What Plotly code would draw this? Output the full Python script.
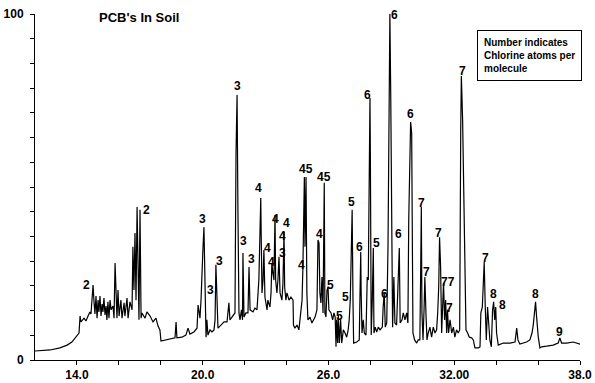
import plotly.graph_objects as go

# Retention time (min) and relative abundance (%)
rt = [12.00, 12.72, 13.19, 13.53, 13.76, 14.00, 14.10, 14.15, 14.19, 14.34, 14.43, 14.53, 14.62, 14.67,
      14.72, 14.77, 14.81, 14.86, 14.91, 14.96, 15.01, 15.05, 15.10, 15.15, 15.20, 15.24, 15.29, 15.34,
      15.39, 15.43, 15.48, 15.53, 15.58, 15.63, 15.72, 15.77, 15.82, 15.86, 15.91, 15.96, 16.01, 16.10,
      16.15, 16.25, 16.29, 16.39, 16.44, 16.53, 16.63, 16.67, 16.72, 16.77, 16.82, 16.87, 16.91, 16.96,
      17.01, 17.06, 17.10, 17.25, 17.34, 17.49, 17.63, 17.77, 17.87, 17.96, 18.01, 18.20, 18.44, 18.68,
      18.73, 18.77, 19.01, 19.20, 19.30, 19.39, 19.58, 19.73, 19.78, 19.87, 19.92, 19.97, 20.01, 20.06,
      20.11, 20.16, 20.20, 20.25, 20.35, 20.44, 20.54, 20.59, 20.63, 20.68, 20.73, 20.87, 21.02, 21.16,
      21.25, 21.30, 21.44, 21.54, 21.59, 21.64, 21.68, 21.73, 21.78, 21.85, 21.90, 21.92, 21.97, 22.06,
      22.16, 22.21, 22.26, 22.40, 22.49, 22.59, 22.68, 22.73, 22.77, 22.79, 22.83, 22.88, 22.92, 22.97,
      23.02, 23.07, 23.11, 23.21, 23.26, 23.30, 23.35, 23.40, 23.45, 23.48, 23.54, 23.59, 23.64, 23.69,
      23.78, 23.83, 23.88, 23.91, 23.97, 24.02, 24.12, 24.21, 24.31, 24.33, 24.40, 24.50, 24.59, 24.69,
      24.74, 24.78, 24.81, 24.85, 24.88, 24.93, 24.97, 25.02, 25.12, 25.21, 25.36, 25.45, 25.50, 25.55,
      25.59, 25.64, 25.69, 25.74, 25.80, 25.83, 25.88, 25.93, 25.98, 26.02, 26.12, 26.20, 26.26, 26.32,
      26.36, 26.39, 26.44, 26.47, 26.52, 26.58, 26.63, 26.71, 26.79, 26.87, 26.94, 26.99, 27.04, 27.09,
      27.13, 27.17, 27.20, 27.35, 27.47, 27.50, 27.54, 27.56, 27.60, 27.66, 27.71, 27.79, 27.85, 27.90,
      27.95, 27.98, 28.00, 28.01, 28.04, 28.09, 28.14, 28.17, 28.23, 28.30, 28.38, 28.46, 28.57, 28.61,
      28.66, 28.71, 28.78, 28.84, 28.89, 28.93, 28.97, 29.01, 29.06, 29.12, 29.17, 29.25, 29.33, 29.38,
      29.42, 29.51, 29.57, 29.65, 29.73, 29.79, 29.83, 29.87, 29.92, 29.97, 30.00, 30.03, 30.11, 30.21,
      30.28, 30.36, 30.40, 30.43, 30.46, 30.51, 30.56, 30.60, 30.65, 30.70, 30.76, 30.84, 30.92, 31.00,
      31.08, 31.16, 31.21, 31.26, 31.30, 31.35, 31.40, 31.45, 31.49, 31.54, 31.59, 31.64, 31.68, 31.73,
      31.80, 31.88, 31.96, 32.03, 32.11, 32.19, 32.26, 32.31, 32.34, 32.40, 32.45, 32.51, 32.56, 32.64,
      32.72, 32.83, 32.91, 32.99, 33.15, 33.23, 33.27, 33.34, 33.38, 33.43, 33.48, 33.53, 33.59, 33.64,
      33.70, 33.77, 33.83, 33.88, 33.93, 33.98, 34.02, 34.10, 34.34, 34.66, 34.90, 34.98, 35.04, 35.13,
      35.45, 35.61, 35.71, 35.77, 35.84, 35.88, 35.93, 36.01, 36.09, 36.17, 36.41, 36.72, 36.96, 37.04,
      37.12, 37.36, 37.68, 38.00]
abundance = [2.6, 2.9, 3.5, 4.3, 5.2, 6.9, 7.8, 12.7, 11.0, 12.1, 11.3, 12.7, 13.9, 13.3,
             19.7, 21.7, 17.3, 13.3, 18.5, 12.1, 17.3, 13.9, 18.5, 12.7, 16.2, 13.9, 17.9, 13.0,
             15.6, 11.6, 16.8, 12.1, 17.3, 14.5, 15.6, 12.1, 28.0, 17.3, 12.1, 20.2, 12.7, 17.3,
             12.1, 16.5, 12.7, 17.9, 12.1, 16.8, 14.5, 32.7, 20.2, 36.7, 17.3, 44.2, 20.2, 11.6,
             43.4, 12.1, 13.6, 12.1, 13.9, 12.7, 11.0, 12.1, 9.8, 8.7, 5.5, 5.8, 6.1, 6.4,
             11.0, 6.4, 6.6, 7.2, 9.2, 7.5, 8.1, 9.2, 15.9, 12.1, 17.3, 30.3, 31.8, 38.4,
             18.8, 6.6, 11.6, 7.2, 8.7, 8.1, 8.7, 11.6, 27.5, 14.5, 9.2, 10.1, 11.0, 11.0,
             16.5, 11.6, 12.7, 13.6, 59.8, 76.6, 44.2, 13.6, 11.6, 14.5, 11.6, 30.9, 12.4, 13.6,
             13.6, 26.9, 14.5, 13.9, 15.0, 14.5, 23.1, 36.7, 46.8, 36.7, 19.4, 23.1, 31.8, 18.2,
             15.3, 14.5, 17.3, 15.3, 19.4, 28.0, 25.1, 23.1, 41.9, 23.1, 19.4, 23.1, 29.8, 19.4,
             17.3, 22.3, 37.0, 21.1, 17.3, 19.4, 17.3, 18.2, 17.3, 10.1, 9.2, 10.1, 8.7, 13.6,
             17.3, 26.6, 40.5, 52.9, 32.7, 52.9, 19.4, 11.6, 12.4, 10.7, 12.4, 14.5, 34.7, 33.8,
             19.4, 16.5, 24.0, 13.6, 51.2, 13.6, 12.4, 20.2, 21.1, 14.5, 13.6, 11.6, 13.6, 12.4,
             3.8, 11.6, 4.9, 13.0, 4.9, 11.6, 4.9, 8.7, 7.8, 6.6, 8.7, 11.6, 17.3, 28.0,
             43.4, 17.3, 4.9, 5.2, 5.8, 17.3, 31.2, 19.4, 7.8, 11.6, 7.8, 7.2, 24.0, 23.1,
             58.7, 75.7, 58.7, 39.6, 7.2, 17.3, 32.4, 7.8, 9.5, 8.1, 9.5, 8.7, 9.5, 15.3,
             19.4, 9.5, 10.7, 32.4, 77.2, 100.0, 77.2, 34.7, 9.5, 24.0, 10.7, 10.1, 22.3, 32.4,
             10.7, 11.6, 13.6, 11.6, 13.6, 10.7, 40.5, 59.8, 68.8, 65.6, 44.2, 7.8, 5.8, 4.9,
             5.8, 5.8, 26.0, 44.2, 13.6, 5.8, 14.5, 24.0, 13.6, 5.8, 7.8, 9.5, 6.6, 9.5,
             7.8, 8.7, 13.6, 21.1, 35.5, 26.9, 7.8, 18.2, 22.3, 11.6, 17.3, 7.8, 14.5, 7.8,
             11.6, 7.8, 9.5, 6.6, 8.7, 7.8, 8.7, 66.5, 82.1, 69.4, 45.4, 20.2, 8.7, 7.8,
             6.6, 6.4, 5.8, 3.5, 3.5, 3.8, 13.6, 15.3, 24.0, 28.3, 15.3, 5.8, 15.3, 11.6,
             5.8, 3.8, 14.5, 16.8, 11.6, 15.3, 7.8, 4.3, 4.9, 4.9, 5.2, 9.2, 5.8, 4.6,
             5.2, 5.8, 7.8, 10.1, 13.9, 16.8, 12.4, 6.6, 3.5, 3.8, 4.0, 4.3, 4.9, 6.4,
             4.9, 4.9, 5.2, 4.6]

# Peak labels: number of chlorine atoms per molecule
label_text = ["2", "2", "3", "3", "3", "3", "3", "3", "4", "4", "4", "4", "4", "4", "3", "4",
              "45", "45", "4", "5", "5", "5", "5", "6", "6", "5", "6", "6", "6", "6",
              "7", "7", "7", "77", "7", "7", "7", "8", "8", "8", "9"]
label_rt = [14.48, 17.34, 20.01, 20.35, 20.82, 21.66, 21.95, 22.32, 22.64, 23.45, 24.02, 23.07, 23.26,
            23.83, 23.83, 24.69, 24.93, 25.78, 25.55, 26.12, 26.79, 26.55, 27.12, 27.50, 27.84, 28.28,
            28.69, 29.14, 29.36, 29.93, 30.44, 30.67, 31.24, 31.72, 31.77, 32.40, 33.51, 33.89, 34.31,
            35.90, 37.00]
label_ab = [21.7, 43.4, 40.8, 20.2, 28.6, 79.2, 34.4, 29.2, 49.7, 40.8, 39.6, 32.4, 28.3,
            35.8, 30.9, 27.5, 55.2, 52.9, 36.4, 21.7, 18.2, 12.7, 45.7, 32.7, 76.6, 33.8,
            19.1, 99.7, 36.4, 71.1, 45.4, 25.4, 36.7, 22.5, 15.0, 83.5, 29.5, 19.1, 15.9,
            19.1, 8.1]

x_tickvals = [14, 16, 18, 20, 22, 24, 26, 28, 30, 32, 34, 36, 38]
x_ticktext = ["14.0", "", "", "20.0", "", "", "26.0", "", "", "32.00", "", "", "38.0"]
y_tickvals = [i * 100 / 14 for i in range(15)]
y_ticktext = ["0"] + [""] * 13 + ["100"]

FONT = "Liberation Sans, Arial, sans-serif"

fig = go.Figure()
fig.add_trace(go.Scatter(x=rt, y=abundance, mode="lines",
                         line=dict(color="black", width=1.2), hoverinfo="skip"))

annotations = []
for t, a, s in zip(label_rt, label_ab, label_text):
    annotations.append(dict(x=t, y=a, xref="x", yref="y", text="<b>%s</b>" % s,
                            showarrow=False, font=dict(family=FONT, size=12, color="black"),
                            xanchor="center", yanchor="middle"))
annotations.append(dict(x=0.19, y=0.991, xref="paper", yref="paper", text="<b>PCB's In Soil</b>",
                        showarrow=False, font=dict(family=FONT, size=13, color="black"),
                        xanchor="center", yanchor="middle"))
annotations.append(dict(x=0.811, y=0.954, xref="paper", yref="paper",
                        text="<b>Number indicates<br>Chlorine atoms per<br>molecule</b>",
                        showarrow=False, align="left", xanchor="left", yanchor="top",
                        font=dict(family=FONT, size=10, color="black"),
                        bordercolor="black", borderwidth=1, borderpad=6, bgcolor="white"))

fig.update_layout(
    width=595, height=383,
    margin=dict(l=35, r=15, t=14, b=23, autoexpand=False),
    paper_bgcolor="white", plot_bgcolor="white",
    showlegend=False,
    annotations=annotations,
    xaxis=dict(range=[12, 38], showgrid=False, zeroline=False, showline=True, automargin=False,
               linecolor="black", linewidth=1, ticks="outside", ticklen=4, tickcolor="black",
               tickvals=x_tickvals, ticktext=x_ticktext, ticklabelstandoff=0,
               tickfont=dict(family=FONT, size=12, color="black", weight="bold")),
    yaxis=dict(range=[0, 100], showgrid=False, zeroline=False, showline=True, automargin=False,
               linecolor="black", linewidth=1, ticks="outside", ticklen=4, tickcolor="black",
               tickvals=y_tickvals, ticktext=y_ticktext, ticklabelstandoff=4,
               tickfont=dict(family=FONT, size=12, color="black", weight="bold")),
)

fig.write_html("out.html", config={"displayModeBar": False, "staticPlot": True},
               post_script="document.body.style.margin='0px';document.body.style.padding='0px';")
